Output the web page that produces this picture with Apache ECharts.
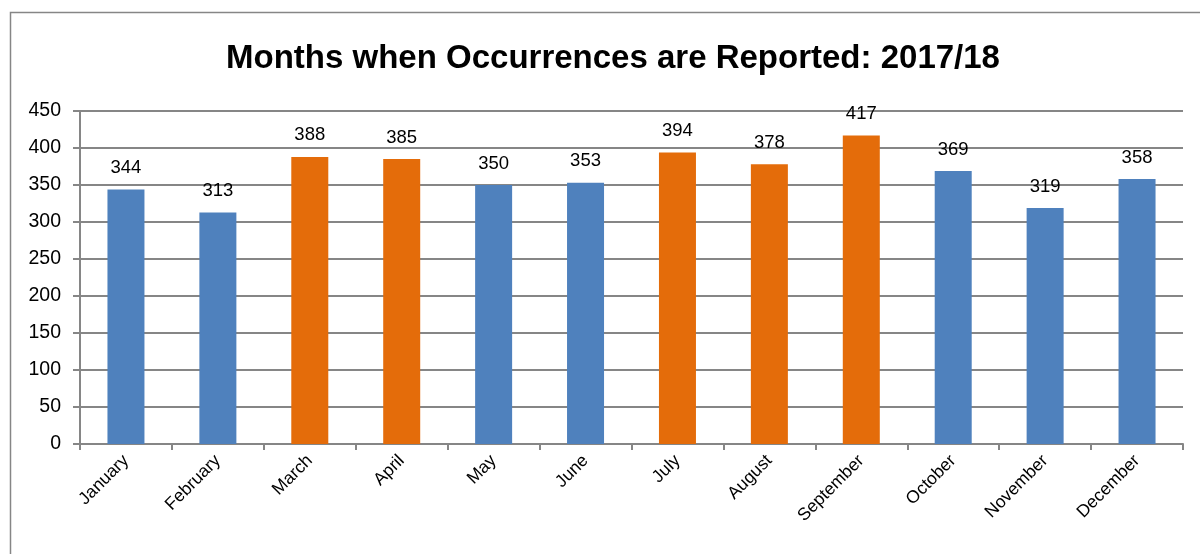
<!DOCTYPE html>
<html><head><meta charset="utf-8">
<script src="https://cdn.jsdelivr.net/npm/echarts@6/dist/echarts.min.js"></script>
<style>html,body{margin:0;padding:0;background:#fff}#c{width:1200px;height:554px}</style>
</head><body><div id="c"></div>
<script>
const categories = ['January','February','March','April','May','June','July','August','September','October','November','December'];
const values = [344,313,388,385,350,353,394,378,417,369,319,358];
const highlighted = [false,false,true,true,false,false,true,true,true,false,false,false];
const yTicks = {min:0,max:450,interval:50};
const titleText = 'Months when Occurrences are Reported: 2017/18';

const BLUE = '#4F81BD', ORANGE = '#E46C0A';
const font = 'Liberation Sans';
const chart = echarts.init(document.getElementById('c'), null, {renderer:'canvas'});
chart.setOption({
  animation:false,
  title:{text:titleText,left:608,top:37,textAlign:'center',
    textStyle:{fontFamily:font,fontWeight:'bold',fontSize:33,color:'#000'}},
  graphic:[{type:'rect',shape:{x:10.5,y:12.5,width:1300,height:700},
    style:{fill:'none',stroke:'#868686',lineWidth:1.5},silent:true}],
  grid:{left:80,right:17,top:111,bottom:110,containLabel:false},
  xAxis:{type:'category',data:categories,
    axisLine:{lineStyle:{color:'#868686',width:2}},
    axisTick:{show:true,alignWithLabel:false,length:6,lineStyle:{color:'#868686',width:2}},
    axisLabel:{rotate:45,fontFamily:font,fontSize:17.5,color:'#000',margin:14,interval:0}},
  yAxis:{type:'value',min:yTicks.min,max:yTicks.max,interval:yTicks.interval,
    axisLine:{show:true,lineStyle:{color:'#868686',width:2}},
    axisTick:{show:true,length:7,lineStyle:{color:'#868686',width:2}},
    splitLine:{lineStyle:{color:'#868686',width:2}},
    axisLabel:{fontFamily:font,fontSize:19.5,color:'#000',margin:19}},
  series:[{type:'bar',barWidth:37,
    data:values.map((v,i)=>({value:v,itemStyle:{color:highlighted[i]?ORANGE:BLUE}})),
    label:{show:true,position:'top',distance:12,fontFamily:font,fontSize:18.5,color:'#000'}}]
});
</script></body></html>
